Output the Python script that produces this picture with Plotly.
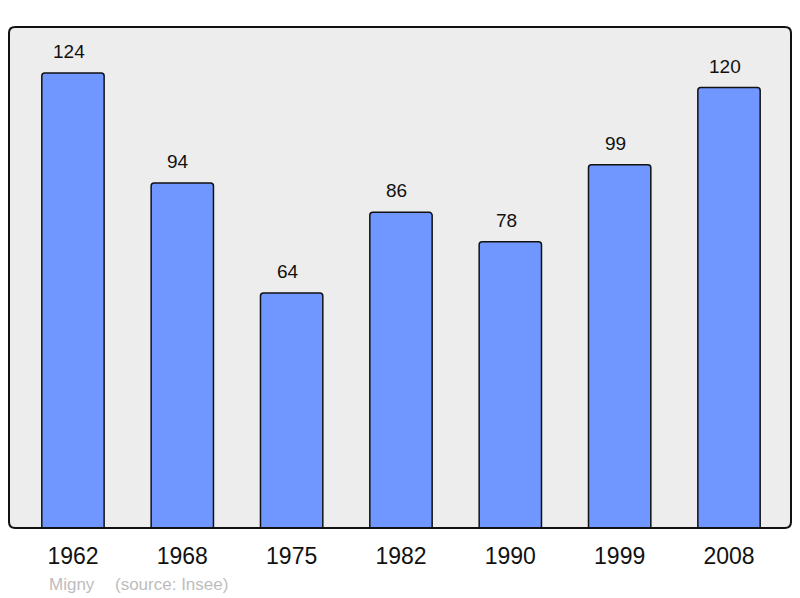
import plotly.graph_objects as go

years = ["1962", "1968", "1975", "1982", "1990", "1999", "2008"]
population = [124, 94, 64, 86, 78, 99, 120]

FONT = "Liberation Sans, Arial, sans-serif"
BAR_COLOR = "#7097FF"
BG_COLOR = "#EDEDED"

idx = list(range(len(years)))

fig = go.Figure()
fig.add_trace(go.Bar(
    x=idx,
    y=population,
    width=0.57,
    marker=dict(color=BAR_COLOR, line=dict(color="#111111", width=1.5)),
    hovertext=years,
    hoverinfo="text+y",
))

# valeurs au-dessus des barres
for i, val in zip(idx, population):
    fig.add_annotation(x=i, y=val, text=str(val), showarrow=False,
                       yanchor="bottom", yshift=9, xshift=-4,
                       font=dict(family=FONT, size=19, color="#111111"))

# cadre aux coins arrondis
rx, ry = 0.008, 0.012
frame = (f"M {rx},0 L {1-rx},0 Q 1,0 1,{ry} L 1,{1-ry} Q 1,1 {1-rx},1 "
         f"L {rx},1 Q 0,1 0,{1-ry} L 0,{ry} Q 0,0 {rx},0 Z")
fig.add_shape(type="path", path=frame, xref="paper", yref="paper",
              line=dict(color="#111111", width=2), layer="above")

# pied de page
for px, txt in [(0.0487, "Migny"), (0.1330, "(source: Insee)")]:
    fig.add_annotation(x=px, y=-0.112, xref="paper", yref="paper",
                       xanchor="left", yanchor="middle", showarrow=False,
                       text=txt,
                       font=dict(family=FONT, size=17, color="#BDBDBD"))

fig.update_layout(
    width=800, height=598,
    margin=dict(l=9, r=9, t=27, b=70),
    plot_bgcolor=BG_COLOR,
    paper_bgcolor="#FFFFFF",
    showlegend=False,
    barcornerradius=3,
    font=dict(family=FONT, color="#111111"),
    xaxis=dict(range=[-0.585, 6.567], showgrid=False,
               tickmode="array", tickvals=idx, ticktext=years,
               zeroline=False, showline=False, ticks="",
               ticklabelstandoff=12,
               tickfont=dict(family=FONT, size=23, color="#111111")),
    yaxis=dict(range=[0, 136.5], visible=False, showgrid=False, zeroline=False),
)

fig.write_html("out.html", config={"displayModeBar": False},
               post_script="document.body.style.margin='0';")
